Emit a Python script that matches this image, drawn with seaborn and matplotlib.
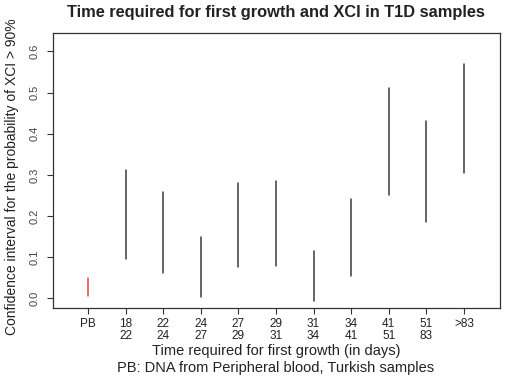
import pandas as pd
import matplotlib
matplotlib.use('Agg')
import matplotlib.pyplot as plt
import seaborn as sns

# Confidence intervals per growth-time group
groups = ['PB', '18-22', '22-24', '24-27', '27-29', '29-31', '31-34', '34-41', '41-51', '51-83', '>83']
tick_labels = ['PB', '18\n22', '22\n24', '24\n27', '27\n29', '29\n31', '31\n34', '34\n41', '41\n51', '51\n83', '>83']
ci_low = [0.006, 0.095, 0.062, 0.002, 0.076, 0.078, -0.007, 0.053, 0.252, 0.186, 0.304]
ci_high = [0.049, 0.312, 0.258, 0.149, 0.280, 0.284, 0.115, 0.242, 0.511, 0.432, 0.569]

rows = []
for i, g in enumerate(groups):
    kind = 'PB' if g == 'PB' else 'culture'
    rows.append({'group': g, 'pos': i, 'value': ci_low[i], 'kind': kind})
    rows.append({'group': g, 'pos': i, 'value': ci_high[i], 'kind': kind})
df = pd.DataFrame(rows)

sns.set_style('white')
plt.rcParams['font.family'] = ['Liberation Sans', 'DejaVu Sans']

fig = plt.figure(figsize=(5.14, 3.80), dpi=100)
ax = fig.add_axes([53/514, 1 - 308/380, 447/514, 275/380])

sns.lineplot(data=df, x='pos', y='value', units='group', estimator=None,
             hue='kind', palette={'PB': '#e0474c', 'culture': '#3a3a3a'},
             linewidth=1.1, legend=False, ax=ax)

ax.set_xlim(-0.93, 10.96)
ax.set_ylim(-0.024, 0.645)
ax.set_xticks(range(len(groups)))
ax.set_xticklabels(tick_labels, fontsize=8.5, linespacing=1.05, color='#222222')
ax.set_yticks([0.0, 0.1, 0.2, 0.3, 0.4, 0.5, 0.6])
ax.set_yticklabels(['0.0', '0.1', '0.2', '0.3', '0.4', '0.5', '0.6'],
                   rotation=90, va='center', fontsize=8, color='#444444')
ax.tick_params(axis='x', direction='out', length=4.5, width=0.8, color='#333333',
               bottom=True, pad=2.5)
ax.tick_params(axis='y', direction='out', length=4.5, width=0.8, color='#333333',
               left=True, pad=5)
for s in ax.spines.values():
    s.set_visible(True)
    s.set_color('#333333')
    s.set_linewidth(0.9)
ax.set_xlabel('')
ax.set_ylabel('')

fig.text(276/514, 1 - 13/380, 'Time required for first growth and XCI in T1D samples',
         ha='center', va='center', fontsize=11.8, fontweight='bold', color='#222222')
fig.text(276/514, 1 - 351/380, 'Time required for first growth (in days)',
         ha='center', va='center', fontsize=10.5, color='#222222')
fig.text(276/514, 1 - 368/380, 'PB: DNA from Peripheral blood, Turkish samples',
         ha='center', va='center', fontsize=10.5, color='#222222')
fig.text(12/514, 1 - 177/380, 'Confidence interval for the probability of XCI > 90%',
         ha='center', va='center', rotation=90, fontsize=10, color='#222222')

fig.savefig('out.png', dpi=100)
